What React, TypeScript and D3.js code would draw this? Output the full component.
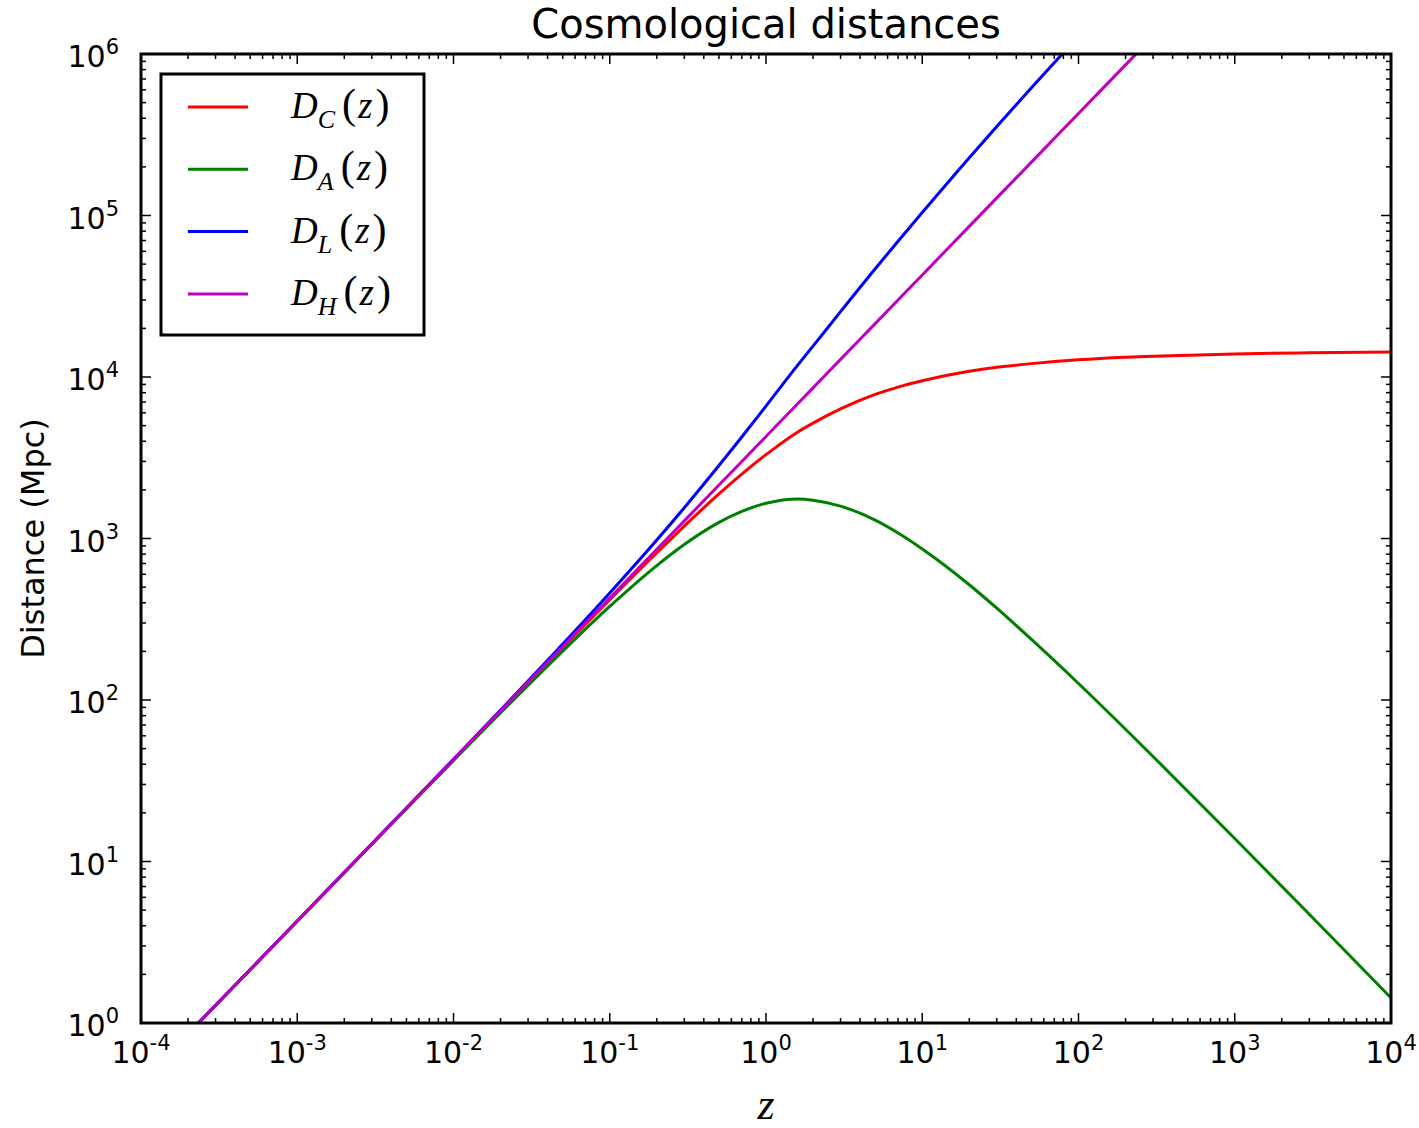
import React from "react";
import * as d3 from "d3";

// redshift samples
const zValues = [
  1e-4, 1e-3, 1e-2, 3e-2, 0.1, 0.2, 0.3, 0.5, 0.7, 1, 1.6, 2, 3, 5, 7, 10, 20,
  30, 50, 100, 200, 300, 1000, 3000, 1e4,
];
const comoving = [
  0.43, 4.28, 42.6, 127, 418, 816, 1194, 1888, 2502, 3304, 4570, 5180, 6345,
  7800, 8660, 9480, 10850, 11480, 12100, 12780, 13250, 13450, 13900, 14130,
  14300,
];
const angular = [
  0.43, 4.27, 42.2, 123, 380, 680, 918, 1259, 1472, 1652, 1758, 1727, 1586,
  1300, 1082, 862, 517, 370, 237, 126.5, 65.9, 44.7, 13.89, 4.71, 1.43,
];
const luminosity = [
  0.43, 4.28, 43.0, 131, 460, 979, 1552, 2832, 4253, 6608, 11880, 15540, 25380,
  46800, 69280, 104280, 227850, 355900, 617100, 1290800, 2660000, 4050000,
  13900000, 42400000, 143000000,
];
const hubble = [
  0.428, 4.28, 42.8, 128.5, 428, 857, 1285, 2142, 2998, 4283, 6853, 8566,
  12850, 21415, 29980, 42830, 85660, 128500, 214150, 428300, 856600, 1284900,
  4283000, 12849000, 42830000,
];

const seriesNames = ["C", "A", "L", "H"];
const seriesColors = ["#ff0000", "#008000", "#0000ff", "#bf00bf"];
const seriesValues = [comoving, angular, luminosity, hubble];

const xExponents = [-4, -3, -2, -1, 0, 1, 2, 3, 4];
const yExponents = [0, 1, 2, 3, 4, 5, 6];

const W = 1419;
const H = 1128;
const left = 141;
const right = 1391;
const top = 54;
const bottom = 1023;

const App = () => {
  const x = d3.scaleLog().domain([1e-4, 1e4]).range([left, right]);
  const y = d3.scaleLog().domain([1, 1e6]).range([bottom, top]);

  const line = d3
    .line<[number, number]>()
    .x((d) => x(d[0]))
    .y((d) => y(d[1]))
    .curve(d3.curveMonotoneX);

  // minor ticks 2..9 in every decade
  const minor = (exps: number[]) => {
    const out: number[] = [];
    exps.slice(0, -1).forEach((e) => {
      for (let k = 2; k <= 9; k++) out.push(k * Math.pow(10, e));
    });
    return out;
  };
  const xMinor = minor(xExponents);
  const yMinor = minor(yExponents);
  const tickStroke = { stroke: "#000", strokeWidth: 1.5 };

  return (
    <svg
      width={W}
      height={H}
      viewBox={`0 0 ${W} ${H}`}
      style={{ position: "absolute", left: 0, top: 0, background: "#fff" }}
      fontFamily="DejaVu Sans"
    >
      <defs>
        <clipPath id="plot">
          <rect x={left} y={top} width={right - left} height={bottom - top} />
        </clipPath>
      </defs>
      <rect x={0} y={0} width={W} height={H} fill="#fff" />

      <g clipPath="url(#plot)">
        {seriesValues.map((vals, i) => (
          <path
            key={i}
            d={line(zValues.map((z, j) => [z, vals[j]] as [number, number])) || ""}
            fill="none"
            stroke={seriesColors[i]}
            strokeWidth={3}
          />
        ))}
      </g>

      {/* ticks on all four sides, pointing inward */}
      {xExponents.map((e) => {
        const px = x(Math.pow(10, e));
        return (
          <g key={"xt" + e}>
            <line x1={px} x2={px} y1={bottom} y2={bottom - 10} {...tickStroke} />
            <line x1={px} x2={px} y1={top} y2={top + 10} {...tickStroke} />
          </g>
        );
      })}
      {xMinor.map((v, i) => (
        <g key={"xm" + i}>
          <line x1={x(v)} x2={x(v)} y1={bottom} y2={bottom - 5} {...tickStroke} />
          <line x1={x(v)} x2={x(v)} y1={top} y2={top + 5} {...tickStroke} />
        </g>
      ))}
      {yExponents.map((e) => {
        const py = y(Math.pow(10, e));
        return (
          <g key={"yt" + e}>
            <line x1={left} x2={left + 10} y1={py} y2={py} {...tickStroke} />
            <line x1={right} x2={right - 10} y1={py} y2={py} {...tickStroke} />
          </g>
        );
      })}
      {yMinor.map((v, i) => (
        <g key={"ym" + i}>
          <line x1={left} x2={left + 5} y1={y(v)} y2={y(v)} {...tickStroke} />
          <line x1={right} x2={right - 5} y1={y(v)} y2={y(v)} {...tickStroke} />
        </g>
      ))}

      <rect
        x={left}
        y={top}
        width={right - left}
        height={bottom - top}
        fill="none"
        stroke="#000"
        strokeWidth={3}
      />

      {/* tick labels */}
      {xExponents.map((e) => (
        <text
          key={"xl" + e}
          x={x(Math.pow(10, e))}
          y={1063}
          textAnchor="middle"
          fontSize={30}
          fill="#000"
        >
          10
          <tspan fontSize={21} dy={-13}>
            {e < 0 ? "-" + Math.abs(e) : String(e)}
          </tspan>
        </text>
      ))}
      {yExponents.map((e) => (
        <text
          key={"yl" + e}
          x={119}
          y={y(Math.pow(10, e)) + 13}
          textAnchor="end"
          fontSize={30}
          fill="#000"
        >
          10
          <tspan fontSize={21} dy={-13}>
            {String(e)}
          </tspan>
        </text>
      ))}

      <text x={766} y={38} textAnchor="middle" fontSize={40} fill="#000">
        Cosmological distances
      </text>
      <text
        transform={`translate(44,${(top + bottom) / 2}) rotate(-90)`}
        textAnchor="middle"
        fontSize={32}
        fill="#000"
      >
        Distance (Mpc)
      </text>
      <text
        x={766}
        y={1119}
        textAnchor="middle"
        fontSize={44}
        fontStyle="italic"
        fontFamily="Liberation Serif"
        fill="#000"
      >
        z
      </text>

      {/* legend */}
      <rect x={161} y={74} width={263} height={261} fill="#fff" stroke="#000" strokeWidth={3} />
      {seriesNames.map((name, i) => {
        const ly = 107 + i * 62.3;
        return (
          <g key={"lg" + name}>
            <line x1={188} x2={248} y1={ly} y2={ly} stroke={seriesColors[i]} strokeWidth={3} />
            <text x={291} y={ly + 11} fontFamily="Liberation Serif" fontSize={37} fill="#000">
              <tspan fontStyle="italic">D</tspan>
              <tspan fontStyle="italic" fontSize={26} dy={10}>
                {name}
              </tspan>
              <tspan dy={-10} dx={7} fontSize={42}>(</tspan>
              <tspan fontStyle="italic" dx={2}>z</tspan>
              <tspan dx={3} fontSize={42}>)</tspan>
            </text>
          </g>
        );
      })}
    </svg>
  );
};

export default App;
